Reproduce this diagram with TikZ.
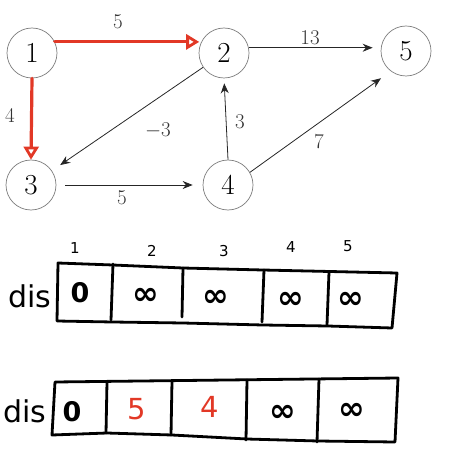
\documentclass[tikz,border=0pt]{standalone}
\usepackage{fontspec}
\newfontfamily\hand{DejaVu Sans}
\usetikzlibrary{arrows.meta}
\definecolor{penred}{RGB}{226,56,38}
\definecolor{ringgray}{RGB}{125,125,125}
\tikzset{
  vert/.style={circle,draw=ringgray,line width=0.7pt,minimum size=50pt,inner sep=0pt,font=\fontsize{29}{29}\selectfont},
  edge/.style={draw=black!85,line width=0.8pt,-{Stealth[length=10pt,width=8pt]}},
  redge/.style={draw=penred,line width=3.2pt,line cap=round,-{Triangle[open,length=13pt,width=15pt,line width=2.8pt]}},
  wlab/.style={font=\fontsize{21}{21}\selectfont,text=black!80,inner sep=0pt},
  tbl/.style={line width=2.8pt,line join=round,line cap=round},
  idx/.style={font=\hand\fontsize{15}{15}\selectfont,inner sep=0pt},
  val/.style={font=\hand\bfseries\fontsize{27}{27}\selectfont,inner sep=0pt},
  inf/.style={font=\hand\bfseries\fontsize{32}{32}\selectfont,inner sep=0pt},
  redval/.style={font=\hand\fontsize{29}{29}\selectfont,text=penred,inner sep=0pt},
  dislab/.style={font=\hand\fontsize{30}{30}\selectfont,inner sep=0pt}
}
\begin{document}
\begin{tikzpicture}[x=1pt,y=-1pt]
\useasboundingbox (0,0) rectangle (448,465);
% graph
\node[vert] (n1) at (32,53) {1};
\node[vert] (n2) at (224,53) {2};
\node[vert] (n5) at (406,51) {5};
\node[vert] (n3) at (31,185) {3};
\node[vert] (n4) at (228,185) {4};

\draw[edge,shorten >=8pt] (n2.12) -- (n2.12 -| n5.west);
\draw[edge,shorten >=10pt] (n2) -- (n3);
\draw[edge,shorten >=5pt] (n4.north) -- (n2.south);
\draw[edge,shorten >=12pt] (n4.30) -- (n5.233);
\draw[edge,shorten <=9pt,shorten >=10pt] (n3.east) -- (n4.west);
\draw[redge,shorten >=2pt] (n1.26) -- (n2.154);
\draw[redge] (n1.south) -- (n3.north);

\node[wlab] (w12) at (118,22) {5};
\node[wlab] (w13) at (10,115) {4};
\node[wlab] (w25) at (310,38) {13};
\node[wlab] (w23) at (158,130) {$-$3};
\node[wlab] (w42) at (240,122) {3};
\node[wlab] (w45) at (319,142) {7};
\node[wlab] (w34) at (122,198) {5};

% first array
\coordinate (a1) at (58,263); \coordinate (a2) at (397,273);
\coordinate (a3) at (392,328); \coordinate (a4) at (57,321);
\draw[tbl] (a1) -- (113,265) -- (183,268) -- (263,270) -- (a2) -- (a3) -- (328,326) -- (263,325) -- (183,323) -- (113,322) -- (a4) -- cycle;
\draw[tbl] (113,264) -- (111,320);
\draw[tbl] (183,268) -- (182,317);
\draw[tbl] (264,270) -- (262,322);
\draw[tbl] (329,272) -- (327,325);
\node[idx] (i1) at (75,248) {1};
\node[idx] (i2) at (152,251) {2};
\node[idx] (i3) at (224,251) {3};
\node[idx] (i4) at (291,247) {4};
\node[idx] (i5) at (348,246) {5};
\node[dislab] (d1) at (30,296) {dis};
\node[val] (v11) at (80,293) {0};
\node[inf] (v12) at (146,296) {∞};
\node[inf] (v13) at (216,298) {∞};
\node[inf] (v14) at (291,300) {∞};
\node[inf] (v15) at (351,300) {∞};

% second array
\coordinate (b1) at (55,382); \coordinate (b2) at (398,378);
\coordinate (b3) at (395,442); \coordinate (b4) at (52,435);
\draw[tbl] (b1) -- (b2) -- (b3) -- (318,441) -- (247,439) -- (172,435) -- (107,433) -- (b4) -- cycle;
\draw[tbl] (107,382) -- (106,433);
\draw[tbl] (172,381) -- (171,435);
\draw[tbl] (247,380) -- (246,440);
\draw[tbl] (319,379) -- (317,442);
\node[dislab] (d2) at (25,411) {dis};
\node[val] (v21) at (72,412) {0};
\node[redval] (v22) at (137,409) {5};
\node[redval] (v23) at (210,407) {4};
\node[inf] (v24) at (283,413) {∞};
\node[inf] (v25) at (352,411) {∞};
\end{tikzpicture}
\end{document}
